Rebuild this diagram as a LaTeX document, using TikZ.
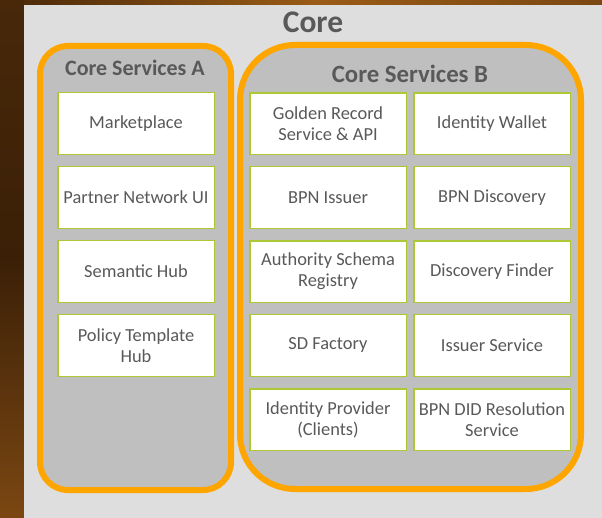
\documentclass[tikz,border=0pt]{standalone}
\usepackage{fontspec}
\setmainfont{Carlito}
\usetikzlibrary{matrix}
\definecolor{panelgray}{HTML}{DEDEDE}
\definecolor{containergray}{HTML}{BFBFBF}
\definecolor{coreorange}{HTML}{FFA500}
\definecolor{boxgreen}{RGB}{172,200,52}
\definecolor{textgray}{HTML}{595959}
\definecolor{darkbrown}{HTML}{3B2007}
\definecolor{midbrown}{HTML}{7B4712}
\definecolor{lightbrown}{HTML}{9A5C16}
\tikzset{
  every picture/.style={x=1pt, y=-1pt, text=textgray}}

\begin{document}
\begin{tikzpicture}[
    servicebox/.style={
      draw=boxgreen,
      line width=1.5pt,
      fill=white,
      anchor=center,
      outer sep=0pt,
      minimum width=156.5pt,
      minimum height=61.5pt,
      inner sep=2pt,
      align=center,
      font=\fontsize{18.4}{21}\selectfont},
    servicegrid/.style={
      matrix of nodes,
      inner sep=0pt,
      outer sep=0pt,
      anchor=north west,
      column sep=6pt,
      row sep=11pt,
      nodes={servicebox}},
    container/.style={
      draw=coreorange,
      line width=6pt,
      fill=containergray},
    title/.style={font=\bfseries\fontsize{24}{28}\selectfont}]

    \useasboundingbox (0,0) rectangle (602,518);

    % backdrop
    \shade[top color=darkbrown!80!midbrown, bottom color=midbrown, middle color=darkbrown]
      (0,0) rectangle (24,518);
    \shade[left color=darkbrown!70!midbrown, right color=midbrown, middle color=lightbrown]
      (24,0) rectangle (602,5);
    \fill[panelgray] (24,5) rectangle (602,518);

    \node[title, font=\bfseries\fontsize{31.5}{36}\selectfont] (core) at (313,22) {Core};

    % the two groups
    \draw[container, rounded corners=28pt] (40,46) rectangle (231,490);
    \draw[container, rounded corners=55pt] (240,45) rectangle (581,489);

    \node[title, font=\bfseries\fontsize{22}{26}\selectfont] (groupA) at (135,68) {Core Services A};
    \node[title, font=\bfseries\fontsize{24.8}{29}\selectfont] (groupB) at (410,74) {Core Services B};

    \matrix[servicegrid] (servicesA) at (57,92) {
       \node (market) {Marketplace}; \\
       \node (partner) {Partner Network UI}; \\
       \node (semantic) {Semantic Hub}; \\
       \node (policy) {Policy Template\\Hub}; \\
    };

    \matrix[servicegrid] (servicesB) at (249,92) {
       \node (golden) {Golden Record\\Service \& API};       & \node (wallet) {Identity Wallet}; \\
       \node (issuer) {BPN Issuer};                          & \node (discovery) {BPN Discovery}; \\
       \node (schema) {Authority Schema\\Registry};          & \node (finder) {Discovery Finder}; \\
       \node (sdfactory) {SD Factory};                       & \node (issuerservice) {Issuer Service}; \\
       \node (idp) {Identity Provider\\(Clients)};           & \node (resolution) {BPN DID Resolution\\Service}; \\
    };
  \end{tikzpicture}
\end{document}
